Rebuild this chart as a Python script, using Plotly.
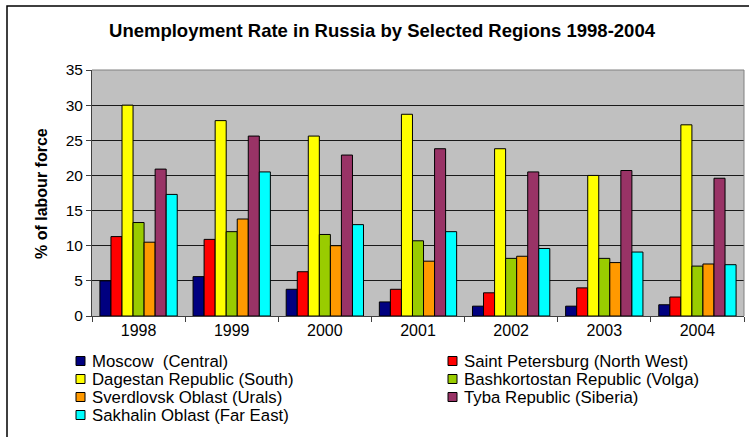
import plotly.graph_objects as go

years = ["1998", "1999", "2000", "2001", "2002", "2003", "2004"]

regions = [
    "Moscow  (Central)",
    "Saint Petersburg (North West)",
    "Dagestan Republic (South)",
    "Bashkortostan Republic (Volga)",
    "Sverdlovsk Oblast (Urals)",
    "Tyba Republic (Siberia)",
    "Sakhalin Oblast (Far East)",
]

moscow = [5.0, 5.6, 3.8, 2.0, 1.4, 1.4, 1.6]
saint_petersburg = [11.3, 10.9, 6.3, 3.8, 3.3, 4.0, 2.7]
dagestan = [30.0, 27.8, 25.6, 28.7, 23.8, 20.0, 27.2]
bashkortostan = [13.3, 12.0, 11.6, 10.7, 8.2, 8.2, 7.1]
sverdlovsk = [10.5, 13.8, 10.0, 7.8, 8.5, 7.6, 7.4]
tyba = [20.9, 25.6, 22.9, 23.8, 20.5, 20.7, 19.6]
sakhalin = [17.3, 20.5, 13.0, 12.0, 9.6, 9.1, 7.3]

series = [moscow, saint_petersburg, dagestan, bashkortostan, sverdlovsk, tyba, sakhalin]
colors = ["#000080", "#FF0000", "#FFFF00", "#99CC00", "#FF9900", "#993366", "#00FFFF"]

FONT = "Liberation Sans, Arial, sans-serif"

W, H = 749, 437
ML, MR, MT, MB = 92, 5, 70, 121
PW, PH = W - ML - MR, H - MT - MB


def px_x(px):
    return (px - ML) / PW


def px_y(py):
    return (H - MB - py) / PH


fig = go.Figure()
for name, vals, col in zip(regions, series, colors):
    fig.add_trace(go.Bar(
        x=years, y=vals, name=name,
        marker=dict(color=col, line=dict(color="black", width=1)),
        showlegend=False,
    ))

fig.update_layout(
    width=W, height=H,
    margin=dict(l=ML, r=MR, t=MT, b=MB),
    paper_bgcolor="white",
    plot_bgcolor="#C0C0C0",
    barmode="group",
    bargap=0.17,
    bargroupgap=0,
    font=dict(family=FONT, size=16, color="black"),
    title=dict(
        text="<b>Unemployment Rate in Russia by Selected Regions 1998-2004</b>",
        x=382 / W, xref="container", xanchor="center",
        y=1 - 31 / H, yref="container", yanchor="middle",
        font=dict(family=FONT, size=18.5, color="black"),
    ),
    showlegend=False,
)

fig.update_xaxes(
    type="category",
    tickson="boundaries",
    ticks="outside", ticklen=5, tickcolor="#404040",
    showline=True, linecolor="#404040", linewidth=1,
    tickfont=dict(family=FONT, size=16),
    showgrid=False,
    automargin=False,
)
fig.update_yaxes(
    range=[0, 35],
    dtick=5,
    ticks="outside", ticklen=5, tickcolor="#404040",
    showline=True, linecolor="#404040", linewidth=1,
    showgrid=True, gridcolor="#1a1a1a", gridwidth=1,
    zeroline=False,
    tickfont=dict(family=FONT, size=15.5),
    automargin=False,
)

# y-axis title
fig.add_annotation(
    text="<b>% of labour force</b>", textangle=-90,
    xref="paper", yref="paper", x=px_x(41), y=px_y(193),
    xanchor="center", yanchor="middle", showarrow=False,
    font=dict(family=FONT, size=16, color="black"),
)

# plot-area frame (top and right edges) in grey
fig.add_shape(type="line", xref="paper", yref="paper", x0=0, x1=1, y0=1, y1=1,
              line=dict(color="#808080", width=1))
fig.add_shape(type="line", xref="paper", yref="paper", x0=1, x1=1, y0=0, y1=1,
              line=dict(color="#808080", width=1))

# legend: two columns of swatches with labels
col_x = [76, 448]
row_y = [361, 379, 397, 415]
for i, (name, col) in enumerate(zip(regions, colors)):
    cx = col_x[i % 2]
    cy = row_y[i // 2]
    fig.add_shape(type="rect", xref="paper", yref="paper",
                  x0=px_x(cx), x1=px_x(cx + 9), y0=px_y(cy + 4.5), y1=px_y(cy - 4.5),
                  fillcolor=col, line=dict(color="black", width=1))
    fig.add_annotation(
        text=name, xref="paper", yref="paper",
        x=px_x(cx + 14), y=px_y(cy), xanchor="left", yanchor="middle",
        showarrow=False, font=dict(family=FONT, size=16.8, color="black"),
    )

# outer chart border
fig.add_shape(type="rect", xref="paper", yref="paper",
              x0=px_x(7), x1=px_x(760), y0=px_y(460), y1=px_y(6),
              line=dict(color="black", width=1.5), layer="above")

fig.write_html("out.html")
